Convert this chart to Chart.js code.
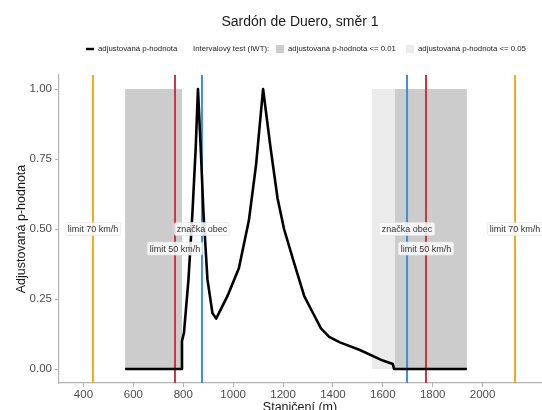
<!DOCTYPE html>
<html>
<head>
<meta charset="utf-8">
<script src="https://cdn.jsdelivr.net/npm/chart.js@4.4.0/dist/chart.umd.min.js"></script>
<style>
  html, body { margin: 0; padding: 0; background: #fff; }
  #wrap { width: 542px; height: 410px; }
</style>
</head>
<body>
<div id="wrap"><canvas id="chart" width="542" height="410"></canvas></div>
<script>
// curve: adjusted p-value along the chainage
const stationM = [567, 795, 795, 803, 821, 837, 850, 859, 870, 881, 897, 917, 932, 977, 1023, 1063, 1092, 1120, 1150, 1178, 1204, 1244, 1285, 1320, 1352, 1385, 1428, 1508, 1600, 1640, 1645, 1937];
const pValue   = [0, 0, 0.10, 0.13, 0.32, 0.56, 0.79, 1.0, 0.79, 0.56, 0.32, 0.20, 0.18, 0.26, 0.36, 0.53, 0.73, 1.0, 0.79, 0.61, 0.50, 0.38, 0.26, 0.20, 0.145, 0.115, 0.095, 0.068, 0.03, 0.018, 0, 0];

// IWT bands
const bands01 = [[567, 795], [1649, 1937]];
const bands05 = [[1556, 1649]];

// vertical markers
const markerX     = [438, 767, 875, 1697, 1773, 2130];
const markerKind  = ['limit70', 'limit50', 'obec', 'obec', 'limit50', 'limit70'];
const markerLabel = ['limit 70 km/h', 'limit 50 km/h', 'značka obec', 'značka obec', 'limit 50 km/h', 'limit 70 km/h'];
const markerLabelY = [0.5, 0.43, 0.5, 0.5, 0.43, 0.5];

const xTicks = [400, 600, 800, 1000, 1200, 1400, 1600, 1800, 2000];
const yTicks = [0, 0.25, 0.5, 0.75, 1.0];

const kindColor = { limit70: '#f2a91d', limit50: '#c9383d', obec: '#3b8fdf' };
const FONT = '"Liberation Sans", Arial, sans-serif';

const datasets = [];

bands05.forEach(b => {
    datasets.push({
        data: [{ x: b[0], y: 1 }, { x: b[1], y: 1 }],
        borderWidth: 0, pointRadius: 0, fill: 'origin',
        backgroundColor: '#ebebeb', order: 10
    });
});
bands01.forEach(b => {
    datasets.push({
        data: [{ x: b[0], y: 1 }, { x: b[1], y: 1 }],
        borderWidth: 0, pointRadius: 0, fill: 'origin',
        backgroundColor: '#cccccc', order: 9
    });
});
markerX.forEach((x, i) => {
    datasets.push({
        data: [{ x: x, y: -0.05 }, { x: x, y: 1.05 }],
        borderColor: kindColor[markerKind[i]], borderWidth: 2,
        pointRadius: 0, fill: false, order: 5
    });
});
datasets.push({
    data: stationM.map((x, i) => ({ x: x, y: pValue[i] })),
    borderColor: '#000', borderWidth: 2.6, pointRadius: 0,
    fill: false, tension: 0, order: 1, borderJoinStyle: 'round'
});

function roundRect(ctx, x, y, w, h, r) {
    ctx.beginPath();
    ctx.moveTo(x + r, y);
    ctx.lineTo(x + w - r, y);
    ctx.quadraticCurveTo(x + w, y, x + w, y + r);
    ctx.lineTo(x + w, y + h - r);
    ctx.quadraticCurveTo(x + w, y + h, x + w - r, y + h);
    ctx.lineTo(x + r, y + h);
    ctx.quadraticCurveTo(x, y + h, x, y + h - r);
    ctx.lineTo(x, y + r);
    ctx.quadraticCurveTo(x, y, x + r, y);
    ctx.closePath();
}

const decorations = {
    id: 'decorations',
    afterDatasetsDraw(chart) {
        const ctx = chart.ctx;
        const xs = chart.scales.x, ys = chart.scales.y;
        // marker labels
        ctx.save();
        ctx.font = '9px ' + FONT;
        ctx.textAlign = 'center';
        ctx.textBaseline = 'middle';
        markerLabel.forEach((t, i) => {
            const cx = xs.getPixelForValue(markerX[i]);
            const cy = ys.getPixelForValue(markerLabelY[i]);
            const w = ctx.measureText(t).width + 5;
            const h = 13;
            roundRect(ctx, cx - w / 2, cy - h / 2, w, h, 2);
            ctx.fillStyle = 'rgba(250,250,250,0.88)';
            ctx.fill();
            ctx.strokeStyle = '#e2e2e2';
            ctx.lineWidth = 0.6;
            ctx.stroke();
            ctx.fillStyle = '#333';
            ctx.fillText(t, cx, cy + 0.5);
        });
        ctx.restore();
    },
    afterDraw(chart) {
        const ctx = chart.ctx;
        const area = chart.chartArea;
        ctx.save();
        // title
        ctx.fillStyle = '#1a1a1a';
        ctx.font = '14px ' + FONT;
        ctx.textAlign = 'center';
        ctx.textBaseline = 'middle';
        ctx.fillText('Sardón de Duero, směr 1', (area.left + area.right) / 2, 22);

        // legend
        ctx.font = '7.8px ' + FONT;
        ctx.textAlign = 'left';
        ctx.fillStyle = '#1a1a1a';
        const ly = 49;
        ctx.strokeStyle = '#000';
        ctx.lineWidth = 2.4;
        ctx.beginPath(); ctx.moveTo(86, ly); ctx.lineTo(94, ly); ctx.stroke();
        ctx.fillText('adjustovaná p-hodnota', 98, ly);
        ctx.fillText('Intervalový test (IWT):', 193, ly);
        ctx.fillStyle = '#cccccc';
        ctx.fillRect(276, ly - 4, 8, 8);
        ctx.fillStyle = '#1a1a1a';
        ctx.fillText('adjustovaná p-hodnota <= 0.01', 288, ly);
        ctx.fillStyle = '#ebebeb';
        ctx.fillRect(406, ly - 4, 8, 8);
        ctx.fillStyle = '#1a1a1a';
        ctx.fillText('adjustovaná p-hodnota <= 0.05', 418, ly);

        // axis titles
        ctx.font = '12.5px ' + FONT;
        ctx.textAlign = 'center';
        ctx.fillText('Staničení (m)', (area.left + area.right) / 2, 408);
        ctx.translate(22, (area.top + area.bottom) / 2);
        ctx.rotate(-Math.PI / 2);
        ctx.fillText('Adjustovaná p-hodnota', 0, 0);
        ctx.restore();
    }
};

new Chart(document.getElementById('chart'), {
    type: 'scatter',
    data: { datasets: datasets },
    options: {
        responsive: false,
        animation: false,
        showLine: true,
        layout: { padding: { top: 75, right: 1, left: 0, bottom: 0 } },
        plugins: { legend: { display: false }, tooltip: { enabled: false } },
        scales: {
            x: {
                type: 'linear', min: 302, max: 2234,
                afterBuildTicks: s => { s.ticks = xTicks.map(v => ({ value: v })); },
                afterFit: s => { s.height = 27; },
                grid: { display: true, drawOnChartArea: false, drawTicks: true, tickLength: 4, color: '#b3b3b3' },
                border: { color: '#b3b3b3', width: 1.2 },
                ticks: { color: '#4d4d4d', font: { family: FONT, size: 11.5 }, padding: 1, maxRotation: 0,
                         callback: v => String(v) }
            },
            y: {
                type: 'linear', min: -0.05, max: 1.05,
                afterBuildTicks: s => { s.ticks = yTicks.map(v => ({ value: v })); },
                afterFit: s => { s.width = 59; },
                grid: { display: true, drawOnChartArea: false, drawTicks: true, tickLength: 4, color: '#b3b3b3' },
                border: { color: '#b3b3b3', width: 1.2 },
                ticks: { color: '#4d4d4d', font: { family: FONT, size: 11.5 }, padding: 3,
                         callback: v => Number(v).toFixed(2) }
            }
        }
    },
    plugins: [decorations]
});
</script>
</body>
</html>
